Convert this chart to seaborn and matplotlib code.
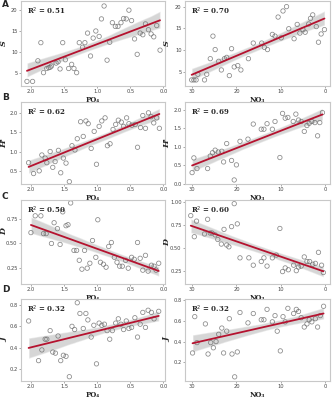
import numpy as np
import pandas as pd
import matplotlib
matplotlib.use("Agg")
import matplotlib.pyplot as plt
import seaborn as sns

# ---------------- data ----------------
po4_S = [2.06, 1.975, 1.895, 1.85, 1.81, 1.76, 1.73, 1.71, 1.69, 1.62, 1.59, 1.56, 1.52, 1.48, 1.43, 1.385, 1.35, 1.31,
         1.27, 1.22, 1.185, 1.145, 1.10, 1.06, 1.02, 0.97, 0.935, 0.895, 0.85, 0.81, 0.77, 0.725, 0.685, 0.64, 0.60,
         0.56, 0.52, 0.48, 0.435, 0.395, 0.35, 0.31, 0.27, 0.225, 0.185, 0.145, 0.10, 0.05]
S_po4 = [2.9, 2.9, 7.85, 12.2, 5.0, 6.0, 6.2, 6.3, 6.6, 7.3, 7.6, 5.9, 12.2, 8.1, 6.0, 7.0, 6.0, 5.0,
         12.2, 11.1, 12.2, 14.5, 9.0, 13.3, 15.0, 13.7, 17.9, 21.0, 8.0, 12.3, 17.0, 16.1, 16.1, 17.0, 18.0,
         17.9, 20.0, 17.5, 13.1, 9.4, 14.5, 14.1, 16.7, 15.3, 14.3, 13.6, 16.3, 10.4]

no3_S = [30.1, 29.6, 29.1, 28.7, 27.2, 26.7, 25.9, 25.3, 24.8, 24.0, 23.4, 22.7, 22.2, 21.6, 21.1, 20.5, 19.7, 19.0,
         17.3, 16.2, 14.3, 13.7, 13.0, 11.9, 11.3, 10.6, 9.9, 9.5, 8.7, 8.2, 7.0, 6.3, 5.7, 5.0, 4.5, 3.7, 3.3,
         2.8, 2.0, 1.5, 0.9, 0.15]
S_no3 = [3.1, 3.1, 3.1, 4.4, 3.1, 4.4, 8.0, 13.2, 10.1, 7.4, 5.4, 8.0, 8.3, 4.1, 10.3, 6.1, 6.4, 5.4,
         8.0, 11.6, 11.6, 10.6, 10.1, 13.6, 13.2, 17.6, 12.8, 19.0, 20.0, 14.9, 12.6, 15.9, 13.9, 14.7, 14.1, 16.0, 17.3,
         18.1, 15.4, 11.8, 13.7, 14.7]

po4_H = [2.035, 1.96, 1.875, 1.835, 1.785, 1.76, 1.71, 1.67, 1.635, 1.585, 1.55, 1.51, 1.47, 1.42, 1.38, 1.335, 1.30,
         1.25, 1.21, 1.17, 1.135, 1.09, 1.045, 1.01, 0.97, 0.93, 0.88, 0.845, 0.805, 0.76, 0.72, 0.68, 0.635, 0.60,
         0.555, 0.52, 0.475, 0.425, 0.39, 0.345, 0.31, 0.27, 0.225, 0.185, 0.145, 0.10, 0.06]
H_po4 = [0.71, 0.43, 0.50, 0.91, 0.83, 0.71, 1.00, 0.59, 0.74, 1.03, 0.45, 0.83, 0.70, 0.22, 1.15, 1.04, 1.33,
         1.77, 1.39, 1.79, 1.72, 1.08, 1.52, 0.67, 1.65, 1.79, 1.87, 1.15, 1.20, 1.57, 1.70, 1.81, 1.76, 1.65,
         1.87, 1.72, 1.68, 1.70, 1.11, 1.62, 1.93, 1.60, 2.00, 1.90, 1.74, 1.87, 1.60]

no3_H = [30.0, 29.6, 28.9, 26.5, 25.9, 25.4, 24.8, 24.1, 23.3, 22.9, 22.2, 21.1, 20.5, 20.0, 19.2, 17.4, 16.2, 14.4,
         13.8, 13.1, 11.9, 11.3, 10.2, 9.6, 9.0, 8.4, 7.2, 6.6, 6.0, 5.4, 4.7, 4.1, 3.6, 3.0, 2.3, 1.7, 1.2, 0.6]
H_no3 = [0.30, 0.70, 0.41, 0.41, 0.75, 0.84, 0.91, 0.86, 0.88, 0.59, 1.09, 0.63, 0.10, 0.51, 1.15, 1.21, 1.62, 1.48,
         1.48, 1.63, 1.48, 1.69, 0.71, 1.91, 1.78, 1.80, 1.69, 1.89, 1.73, 1.69, 1.42, 1.58, 1.64, 1.69, 1.66, 1.30, 1.66, 1.93]

po4_D = [2.0, 1.935, 1.85, 1.81, 1.77, 1.69, 1.65, 1.60, 1.56, 1.52, 1.47, 1.44, 1.40, 1.35, 1.31, 1.27, 1.23, 1.19,
         1.15, 1.11, 1.07, 1.02, 0.99, 0.95, 0.905, 0.865, 0.825, 0.785, 0.74, 0.70, 0.66, 0.62, 0.57, 0.53, 0.48,
         0.44, 0.39, 0.35, 0.31, 0.27, 0.23, 0.18, 0.14, 0.11, 0.07]
D_po4 = [0.61, 0.78, 0.78, 0.60, 0.60, 0.50, 0.71, 0.65, 0.49, 0.82, 0.68, 0.69, 0.91, 0.43, 0.43, 0.33, 0.24, 0.43,
         0.25, 0.30, 0.53, 0.36, 0.74, 0.31, 0.29, 0.26, 0.47, 0.51, 0.36, 0.31, 0.27, 0.27, 0.33, 0.25, 0.36,
         0.34, 0.51, 0.35, 0.23, 0.38, 0.22, 0.28, 0.27, 0.23, 0.30]

no3_D = [30.3, 29.5, 29.0, 27.2, 26.5, 25.9, 25.5, 24.8, 24.2, 23.4, 22.8, 22.2, 21.7, 21.1, 20.5, 19.8, 19.2, 17.2,
         16.2, 14.4, 13.8, 13.1, 11.9, 11.0, 10.2, 9.6, 9.0, 8.3, 7.1, 6.5, 6.0, 5.4, 4.7, 4.1, 3.5, 2.8, 2.2, 1.5,
         0.8, 0.4]
D_no3 = [0.85, 0.62, 0.79, 0.65, 0.81, 0.66, 0.66, 0.64, 0.59, 0.54, 0.70, 0.53, 0.51, 0.73, 0.98, 0.76, 0.39, 0.39,
         0.31, 0.35, 0.39, 0.30, 0.39, 0.42, 0.71, 0.24, 0.28, 0.26, 0.31, 0.25, 0.29, 0.30, 0.40, 0.35, 0.35, 0.32,
         0.33, 0.45, 0.31, 0.23]

po4_J = [2.035, 1.885, 1.835, 1.785, 1.76, 1.71, 1.67, 1.63, 1.59, 1.55, 1.51, 1.47, 1.42, 1.38, 1.34, 1.30, 1.26,
         1.21, 1.17, 1.14, 1.09, 1.05, 1.01, 0.97, 0.93, 0.89, 0.85, 0.81, 0.77, 0.72, 0.68, 0.64, 0.60, 0.56, 0.52,
         0.48, 0.43, 0.39, 0.35, 0.31, 0.27, 0.23, 0.18, 0.14, 0.07]
J_po4 = [0.65, 0.28, 0.38, 0.48, 0.48, 0.56, 0.36, 0.35, 0.51, 0.28, 0.33, 0.32, 0.13, 0.60, 0.57, 0.82, 0.72,
         0.58, 0.72, 0.66, 0.50, 0.61, 0.25, 0.63, 0.61, 0.62, 0.56, 0.48, 0.56, 0.63, 0.67, 0.62, 0.57, 0.65, 0.58,
         0.59, 0.68, 0.50, 0.62, 0.73, 0.59, 0.75, 0.73, 0.67, 0.74]

no3_J = [29.9, 29.4, 28.9, 27.0, 26.4, 25.8, 25.2, 24.6, 24.0, 23.3, 22.9, 22.2, 21.6, 21.0, 20.4, 19.8, 19.2, 17.4,
         16.2, 14.4, 13.8, 13.1, 11.9, 11.3, 10.8, 10.1, 9.5, 9.0, 8.4, 7.1, 6.5, 6.0, 5.4, 4.7, 4.1, 3.6, 3.0, 2.2,
         1.7, 1.1, 0.35]
J_no3 = [0.29, 0.64, 0.39, 0.57, 0.28, 0.39, 0.34, 0.40, 0.47, 0.53, 0.29, 0.50, 0.62, 0.28, 0.06, 0.30, 0.68, 0.58,
         0.67, 0.61, 0.61, 0.71, 0.59, 0.65, 0.50, 0.31, 0.64, 0.59, 0.72, 0.67, 0.71, 0.69, 0.63, 0.54, 0.57, 0.61,
         0.59, 0.62, 0.54, 0.65, 0.74]

panel_letters = ["A", "B", "C", "D"]
y_labels = ["S", "H'", "D", "J"]
x_labels = ["PO\u2084", "NO\u2083"]
r2_left = ["0.51", "0.62", "0.50", "0.32"]
r2_right = ["0.70", "0.69", "0.60", "0.32"]
po4_ticks = [2.0, 1.5, 1.0, 0.5, 0.0]
no3_ticks = [30, 20, 10, 0]

# ---------------- style ----------------
sns.set_theme(style="white")
plt.rcParams["font.family"] = ["DejaVu Sans"]

fig = plt.figure(figsize=(3.32, 4.00), dpi=100)
W, H = 332.0, 400.0
rows_px = [(1, 86), (102, 184), (200, 284), (299, 381)]
cols_px = [(21, 165), (185, 330)]
letter_top_px = [0, 93, 192, 285]
left_ylab_y = [0.5, 0.5, 0.63, 0.5]

left_sets = [(po4_S, S_po4), (po4_H, H_po4), (po4_D, D_po4), (po4_J, J_po4)]
right_sets = [(no3_S, S_no3), (no3_H, H_no3), (no3_D, D_no3), (no3_J, J_no3)]

left_ylims = [(1.8, 22.2), (0.16, 2.28), (0.09, 0.94), (0.09, 0.855)]
right_ylims = [(1.7, 21.3), (-0.01, 2.22), (0.105, 1.02), (0.02, 0.81)]
left_yticks = [[5, 10, 15, 20], [0.5, 1.0, 1.5, 2.0], [0.25, 0.50, 0.75], [0.2, 0.4, 0.6, 0.8]]
right_yticks = [[5, 10, 15, 20], [0.0, 0.5, 1.0, 1.5, 2.0], [0.25, 0.50, 0.75, 1.00], [0.2, 0.4, 0.6, 0.8]]
ytick_fmt = ["{:.0f}", "{:.1f}", "{:.2f}", "{:.1f}"]

line_col = "#b5122f"
band_col = "#9a9a9a"
pt_col = "#6a6a6a"
frame_col = "#c8c8c8"

def draw(ax, x, y, xlim, xticks, xtfmt, ylim, yticks, ytfmt, xlabel, ylabel, r2, ylab_x, ylab_y):
    df = pd.DataFrame({"x": x, "y": y})
    sns.regplot(data=df, x="x", y="y", ax=ax, scatter=False, ci=95, color=band_col,
                line_kws=dict(lw=0), truncate=True)
    for coll in ax.collections:
        coll.set_alpha(0.4)
    sns.regplot(data=df, x="x", y="y", ax=ax, ci=None, truncate=True,
                scatter_kws=dict(s=10, facecolors="none", edgecolors=pt_col, linewidths=0.55),
                line_kws=dict(color=line_col, lw=1.3))
    ax.set_xlim(*xlim)
    ax.set_ylim(*ylim)
    ax.set_xticks(xticks)
    ax.set_xticklabels([xtfmt.format(t) for t in xticks], fontsize=3.7)
    ax.set_yticks(yticks)
    ax.set_yticklabels([ytfmt.format(t) for t in yticks], fontsize=3.7)
    ax.tick_params(axis="both", length=1.5, width=0.5, pad=1.0, colors="#888888", labelcolor="#444444")
    ax.tick_params(axis="both", which="both", bottom=True, left=True)
    for sp in ax.spines.values():
        sp.set_color(frame_col)
        sp.set_linewidth(0.8)
    ax.set_xlabel(xlabel, fontsize=5.0, fontweight="bold", family="DejaVu Serif", labelpad=0.8)
    ax.set_ylabel(ylabel, fontsize=5.8, fontweight="bold", fontstyle="italic", family="DejaVu Serif")
    ax.yaxis.set_label_coords(ylab_x, ylab_y)
    ax.text(0.04, 0.94, "R$^{2}$ = " + r2, transform=ax.transAxes, fontsize=5,
            fontweight="bold", family="DejaVu Serif", va="top", ha="left")

for i in range(4):
    t, b = rows_px[i]
    for j in range(2):
        l, r = cols_px[j]
        ax = fig.add_axes([l / W, 1 - b / H, (r - l) / W, (b - t) / H])
        if j == 0:
            x, y = left_sets[i]
            draw(ax, x, y, (2.15, -0.025), po4_ticks, "{:.1f}", left_ylims[i], left_yticks[i],
                 ytick_fmt[i], x_labels[0], y_labels[i], r2_left[i], (8 - l) / (r - l), left_ylab_y[i])
        else:
            x, y = right_sets[i]
            draw(ax, x, y, (31.6, -1.1), no3_ticks, "{:.0f}", right_ylims[i], right_yticks[i],
                 ytick_fmt[i], x_labels[1], y_labels[i], r2_right[i], (171 - l) / (r - l), 0.5)
    fig.text(2 / W, 1 - letter_top_px[i] / H, panel_letters[i], fontsize=6.5, fontweight="bold",
             va="top", ha="left")

fig.savefig("out.png", dpi=100)
